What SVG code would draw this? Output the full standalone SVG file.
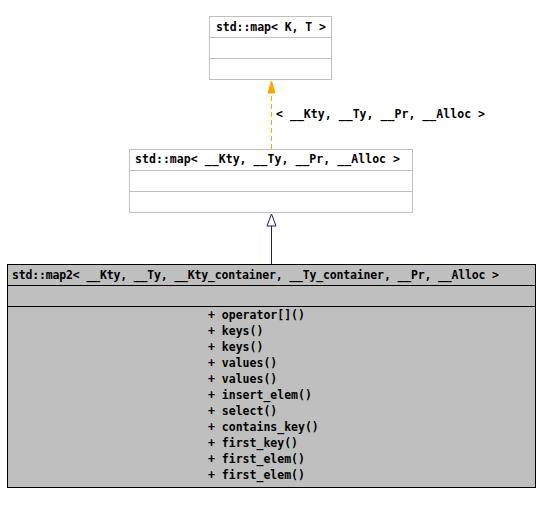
<svg xmlns="http://www.w3.org/2000/svg" width="540" height="505" viewBox="0 0 540 505">
<style>
text{font-family:"DejaVu Sans Mono","Liberation Mono",monospace;font-size:11.5px;font-weight:bold;fill:#000}
.light rect,.light line{stroke:#bfbfbf;fill:#fff}
.dark rect{fill:#bfbfbf;stroke:#000}
.dark line{stroke:#000}
</style>
<rect width="540" height="505" fill="#fff"/>
<g id="node-map-KT" class="light">
<rect x="209.5" y="16.5" width="122" height="63"/>
<line x1="209.5" y1="37.5" x2="331.5" y2="37.5"/>
<line x1="209.5" y1="58.5" x2="331.5" y2="58.5"/>
<text x="216" y="31" textLength="110">std::map&lt; K, T &gt;</text>
</g>
<g id="node-map" class="light">
<rect x="129.5" y="149.5" width="283" height="63"/>
<line x1="129.5" y1="170.5" x2="412.5" y2="170.5"/>
<line x1="129.5" y1="191.5" x2="412.5" y2="191.5"/>
<text x="135" y="163" textLength="265">std::map&lt; __Kty, __Ty, __Pr, __Alloc &gt;</text>
</g>
<g id="node-map2" class="dark">
<rect x="7.5" y="264.5" width="528" height="223"/>
<line x1="7.5" y1="285.5" x2="535.5" y2="285.5"/>
<line x1="7.5" y1="306.5" x2="535.5" y2="306.5"/>
<text x="12" y="279" textLength="487">std::map2&lt; __Kty, __Ty, __Kty_container, __Ty_container, __Pr, __Alloc &gt;</text>
<text x="208" y="319">+ operator[]()</text>
<text x="208" y="335">+ keys()</text>
<text x="208" y="351">+ keys()</text>
<text x="208" y="367">+ values()</text>
<text x="208" y="383">+ values()</text>
<text x="208" y="399">+ insert_elem()</text>
<text x="208" y="415">+ select()</text>
<text x="208" y="431">+ contains_key()</text>
<text x="208" y="447">+ first_key()</text>
<text x="208" y="463">+ first_elem()</text>
<text x="208" y="479">+ first_elem()</text>
</g>
<g id="connectors">
<line x1="271.5" y1="149" x2="271.5" y2="92" stroke="#ffa500" stroke-dasharray="5,3"/>
<polygon points="271.5,81 275,93 268,93" fill="#ffa500" stroke="#ffa500"/>
<text x="276" y="118" textLength="209">&lt; __Kty, __Ty, __Pr, __Alloc &gt;</text>
<line x1="271.5" y1="264" x2="271.5" y2="226" stroke="#191970"/>
<polygon points="271.5,214 276,226 267,226" fill="#fff" stroke="#191970"/>
</g>
</svg>
